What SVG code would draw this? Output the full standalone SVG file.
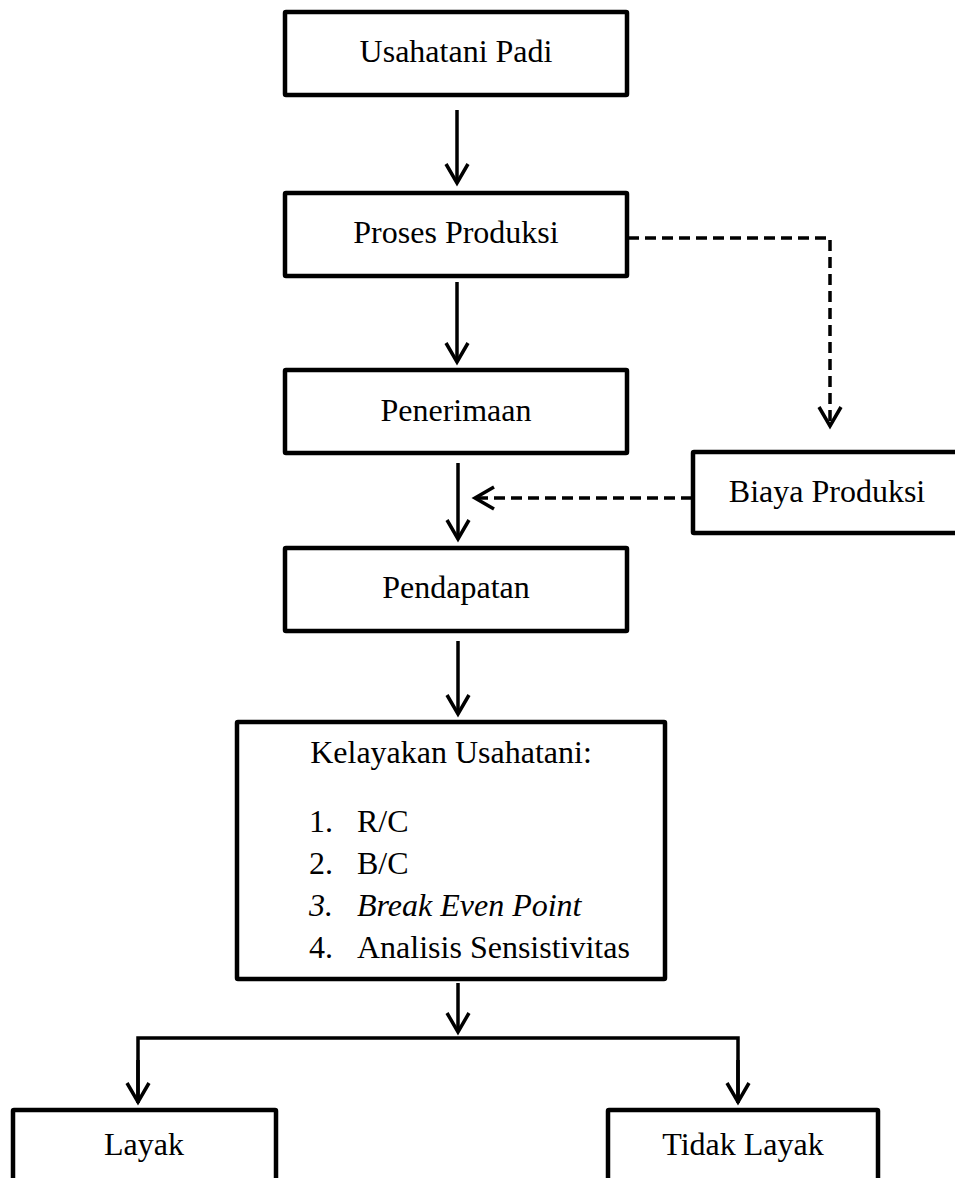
<svg xmlns="http://www.w3.org/2000/svg" width="955" height="1178" viewBox="0 0 955 1178">
  <style>
    .box { fill: #ffffff; stroke: #000000; stroke-width: 4.5; }
    .t { font-family: "Liberation Serif", "Times New Roman", serif; font-size: 32px; fill: #000000; }
    .c { text-anchor: middle; }
    .i { font-style: italic; }
    .ln { fill: none; stroke: #000000; stroke-width: 3.5; }
    .dash { stroke-dasharray: 11 6; }
  </style>
  <defs>
    <marker id="ah" markerUnits="userSpaceOnUse" orient="auto" overflow="visible" markerWidth="1" markerHeight="1" refX="0" refY="0">
      <path d="M -19 -11 L 0 0 L -19 11" fill="none" stroke="#000000" stroke-width="3.5" stroke-linejoin="miter"/>
    </marker>
  </defs>
  <rect width="955" height="1178" fill="#ffffff"/>

  <g id="connectors">
    <line class="ln" x1="457" y1="110" x2="457" y2="183" marker-end="url(#ah)"/>
    <line class="ln" x1="457" y1="282" x2="457" y2="362" marker-end="url(#ah)"/>
    <polyline class="ln dash" points="628,238 830,238 830,426" marker-end="url(#ah)"/>
    <line class="ln" x1="458" y1="463" x2="458" y2="539" marker-end="url(#ah)"/>
    <line class="ln dash" x1="692" y1="498" x2="475" y2="498" marker-end="url(#ah)"/>
    <line class="ln" x1="458" y1="641" x2="458" y2="714" marker-end="url(#ah)"/>
    <line class="ln" x1="458" y1="983" x2="458" y2="1032" marker-end="url(#ah)"/>
    <polyline class="ln" points="138,1103 138,1038 738,1038 738,1103" />
    <line class="ln" x1="138" y1="1060" x2="138" y2="1102" marker-end="url(#ah)"/>
    <line class="ln" x1="738" y1="1060" x2="738" y2="1102" marker-end="url(#ah)"/>
  </g>

  <g id="usahatani-padi">
    <rect class="box" x="285" y="12" width="342" height="83" rx="1"/>
    <text class="t c" x="456" y="62">Usahatani Padi</text>
  </g>
  <g id="proses-produksi">
    <rect class="box" x="285" y="193" width="342" height="83" rx="1"/>
    <text class="t c" x="456" y="243">Proses Produksi</text>
  </g>
  <g id="penerimaan">
    <rect class="box" x="285" y="370" width="342" height="83" rx="1"/>
    <text class="t c" x="456" y="421">Penerimaan</text>
  </g>
  <g id="biaya-produksi">
    <rect class="box" x="693" y="452" width="300" height="81" rx="1"/>
    <text class="t c" x="827" y="502">Biaya Produksi</text>
  </g>
  <g id="pendapatan">
    <rect class="box" x="285" y="548" width="342" height="83" rx="1"/>
    <text class="t c" x="456" y="598">Pendapatan</text>
  </g>
  <g id="kelayakan-usahatani">
    <rect class="box" x="237" y="722" width="428" height="257" rx="1"/>
    <text class="t c" x="451" y="763">Kelayakan Usahatani:</text>
    <text class="t" x="309" y="832">1.</text>
    <text class="t" x="357" y="832">R/C</text>
    <text class="t" x="309" y="874">2.</text>
    <text class="t" x="357" y="874">B/C</text>
    <text class="t i" x="309" y="916">3.</text>
    <text class="t i" x="357" y="916">Break Even Point</text>
    <text class="t" x="309" y="958">4.</text>
    <text class="t" x="357" y="958">Analisis Sensistivitas</text>
  </g>
  <g id="layak">
    <rect class="box" x="13" y="1110" width="263" height="120" rx="1"/>
    <text class="t c" x="144" y="1155">Layak</text>
  </g>
  <g id="tidak-layak">
    <rect class="box" x="608" y="1110" width="270" height="120" rx="1"/>
    <text class="t c" x="743" y="1155">Tidak Layak</text>
  </g>
</svg>
